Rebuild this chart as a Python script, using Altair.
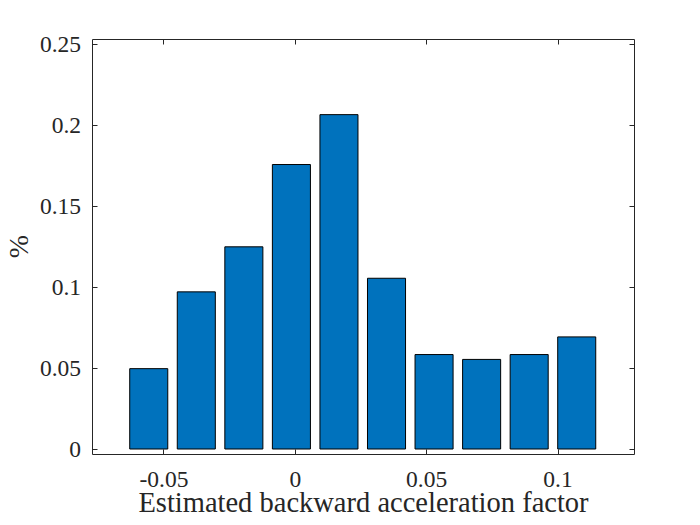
import altair as alt
import pandas as pd

# bin centres and probabilities
centers = [-0.0556, -0.0375, -0.0194, -0.0013, 0.0168, 0.0349, 0.0530, 0.0711, 0.0892, 0.1073]
values = [0.0496, 0.0970, 0.1248, 0.1756, 0.2064, 0.1054, 0.0583, 0.0553, 0.0583, 0.0692]
x_ticks = [-0.05, 0, 0.05, 0.1]
y_ticks = [0, 0.05, 0.1, 0.15, 0.2, 0.25]
x_domain = [-0.0772, 0.1291]
y_domain = [0, 0.25]
half_width = 0.00724  # 0.8 of bin width / 2

df = pd.DataFrame({"c": centers, "v": values})

W, H = 542, 415
FONT = "Liberation Serif"
AX = "#262626"
LBL = "replace(format(datum.value, '~g'), '\u2212', '-')"

base = alt.Chart(df).transform_calculate(
    x0=f"datum.c - {half_width}", x1=f"datum.c + {half_width}"
)

xs = alt.Scale(domain=x_domain, nice=False, zero=False)
ys = alt.Scale(domain=y_domain, nice=False)

bars = base.mark_bar(color="#0072BD", stroke="#000000", strokeWidth=1).encode(
    x=alt.X("x0:Q", scale=xs, axis=alt.Axis(
        orient="bottom", values=x_ticks, ticks=False, tickSize=0, domain=False, grid=False,
        labelExpr=LBL, labelFont=FONT, labelFontSize=23.5, labelColor=AX,
        labelBaseline="alphabetic", labelPadding=32, labelFlush=False,
        title="Estimated backward acceleration factor", titleFont=FONT, titleFontSize=28.5,
        titleFontWeight="normal", titleColor=AX, titleBaseline="alphabetic",
        titleX=W / 2, titleY=57.5)),
    x2="x1:Q",
    y=alt.Y("v:Q", scale=ys, axis=alt.Axis(
        orient="left", values=y_ticks, ticks=False, tickSize=0, domain=False, grid=False,
        labelExpr=LBL, labelFont=FONT, labelFontSize=23.5, labelColor=AX,
        labelPadding=11.5, labelFlush=False,
        title="%", titleFont=FONT, titleFontSize=28, titleFontWeight="normal",
        titleColor=AX, titleAngle=270, titleBaseline="middle",
        titleX=-73, titleY=207)),
    y2=alt.datum(0),
)

ticks_a = base.mark_bar(opacity=0).encode(
    x=alt.X("x0:Q", scale=xs, axis=alt.Axis(
        orient="top", offset=-H, values=x_ticks, ticks=True, tickSize=5, tickColor=AX,
        labels=False, domain=False, grid=False, title=None)),
    x2="x1:Q",
    y=alt.Y("v:Q", scale=ys, axis=alt.Axis(
        orient="right", offset=-W, values=y_ticks, ticks=True, tickSize=5, tickColor=AX,
        labels=False, domain=False, grid=False, title=None)),
)

ticks_b = base.mark_bar(opacity=0).encode(
    x=alt.X("x0:Q", scale=xs, axis=alt.Axis(
        orient="bottom", offset=-H, values=x_ticks, ticks=True, tickSize=5, tickColor=AX,
        labels=False, domain=False, grid=False, title=None)),
    x2="x1:Q",
    y=alt.Y("v:Q", scale=ys, axis=alt.Axis(
        orient="left", offset=-W, values=y_ticks, ticks=True, tickSize=5, tickColor=AX,
        labels=False, domain=False, grid=False, title=None)),
)

chart = alt.layer(bars, ticks_a, ticks_b).resolve_axis(
    x="independent", y="independent"
).properties(
    width=W, height=H,
    autosize=alt.AutoSizeParams(type="none"),
    padding={"left": 84, "top": 31, "right": 56, "bottom": 62},
    background="white",
).configure(font=FONT).configure_axis(
    labelFont=FONT, titleFont=FONT
).configure_view(stroke=AX, strokeWidth=1)

chart.save("out.html", embed_options={"renderer": "svg", "actions": False})
